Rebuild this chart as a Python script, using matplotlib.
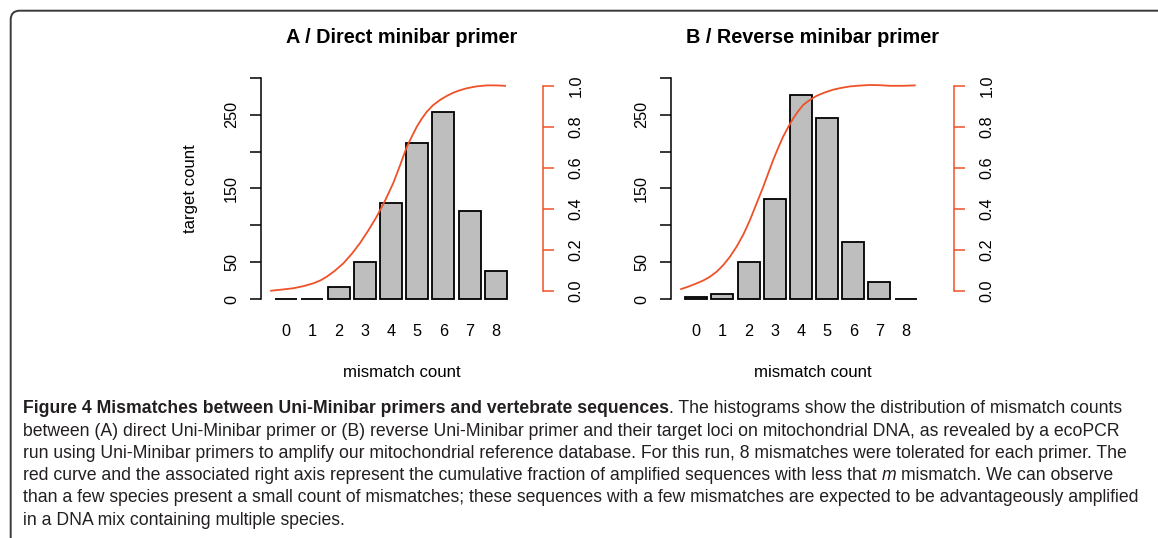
import numpy as np
import matplotlib
matplotlib.use('Agg')
import matplotlib.pyplot as plt
from matplotlib import font_manager
from matplotlib.patches import FancyBboxPatch
from matplotlib.transforms import IdentityTransform

# Data
mismatch = [0, 1, 2, 3, 4, 5, 6, 7, 8]
count_direct = [0, 0, 16, 51, 131, 211, 253, 119, 38]
count_reverse = [3, 7, 50, 136, 276, 246, 78, 23, 0]

# cumulative fraction curves
curve_direct_x = [-0.58, -0.2, 0.27, 0.65, 1.03, 1.3, 1.54, 1.85, 2.18, 2.5, 2.81, 3.13, 3.45,
                  3.77, 4.08, 4.35, 4.60, 4.8, 4.98, 5.17, 5.36, 5.6, 5.87, 6.12, 6.37, 6.62,
                  6.89, 7.25, 7.65, 8.0, 8.35]
curve_direct_y = [0.0, 0.005, 0.012, 0.022, 0.036, 0.05, 0.068, 0.097, 0.134, 0.18, 0.232, 0.294,
                  0.362, 0.44, 0.525, 0.615, 0.703, 0.755, 0.801, 0.840, 0.874, 0.906, 0.932,
                  0.951, 0.967, 0.979, 0.989, 0.998, 1.003, 1.003, 1.001]
curve_reverse_x = [-0.58, -0.3, 0.015, 0.27, 0.52, 0.78, 1.03, 1.28, 1.54, 1.8, 2.05, 2.3, 2.56,
                   2.75, 2.94, 3.13, 3.32, 3.52, 3.71, 3.9, 4.09, 4.35, 4.60, 4.9, 5.23, 5.55,
                   5.87, 6.25, 6.63, 7.0, 7.40, 7.9, 8.35]
curve_reverse_y = [0.008, 0.02, 0.036, 0.05, 0.068, 0.093, 0.125, 0.165, 0.215, 0.275, 0.345,
                   0.425, 0.508, 0.574, 0.639, 0.698, 0.753, 0.801, 0.843, 0.878, 0.908, 0.933,
                   0.952, 0.968, 0.982, 0.991, 0.998, 1.002, 1.005, 1.004, 1.001, 1.001, 1.003]

left_ticks = [0, 50, 100, 150, 200, 250, 300]
left_labels = ['0', '50', '', '150', '', '250', '']
right_ticks = [0.0, 0.2, 0.4, 0.6, 0.8, 1.0]
right_labels = ['0.0', '0.2', '0.4', '0.6', '0.8', '1.0']

titles = ['A / Direct minibar primer', 'B / Reverse minibar primer']

caption_lines = [
    [('Figure 4 Mismatches between Uni-Minibar primers and vertebrate sequences', 'bold'),
     ('. The histograms show the distribution of mismatch counts', 'normal')],
    [('between (A) direct Uni-Minibar primer or (B) reverse Uni-Minibar primer and their target '
      'loci on mitochondrial DNA, as revealed by a ecoPCR', 'normal')],
    [('run using Uni-Minibar primers to amplify our mitochondrial reference database. For this '
      'run, 8 mismatches were tolerated for each primer. The', 'normal')],
    [('red curve and the associated right axis represent the cumulative fraction of amplified '
      'sequences with less that', 'normal'), ('m', 'italic'),
     ('mismatch. We can observe', 'normal')],
    [('than a few species present a small count of mismatches; these sequences with a few '
      'mismatches are expected to be advantageously amplified', 'normal')],
    [('in a DNA mix containing multiple species.', 'normal')],
]

RED = '#ef5128'
GREY = '#bebebe'
W, H = 1158, 538
plt.rcParams['font.family'] = ['Liberation Sans', 'DejaVu Sans']

fig = plt.figure(figsize=(W / 100, H / 100), dpi=100)


def px(x, y):
    return x / W, 1 - y / H


def panel(left, right, counts, cx, cy, xlim, title, ylabel):
    top, bottom = 70, 310
    ax = fig.add_axes([left / W, 1 - bottom / H, (right - left) / W, (bottom - top) / H])
    ax.patch.set_visible(False)
    ax.bar(mismatch, counts, width=0.84, color=GREY, edgecolor='black', linewidth=1.3)
    ax.set_xlim(xlim)
    ax.set_ylim(-14.49, 310.4)
    for s in ['top', 'right', 'bottom']:
        ax.spines[s].set_visible(False)
    ax.spines['left'].set_bounds(0, 300)
    ax.spines['left'].set_linewidth(1.1)
    ax.set_yticks(left_ticks)
    ax.set_yticklabels(left_labels)
    ax.tick_params(axis='y', length=7.7, width=1.1, pad=13.2, labelsize=11.7, labelrotation=90)
    for lab in ax.get_yticklabels():
        lab.set_ha('center')
        lab.set_va('center')
    ax.set_xticks(mismatch)
    ax.set_xticklabels([str(m) for m in mismatch])
    ax.tick_params(axis='x', length=0, pad=10, labelsize=11.7)

    ax2 = ax.twinx()
    ax2.plot(cx, cy, color=RED, linewidth=1.3)
    ax2.set_ylim(-0.0943, 1.0782)
    for s in ['top', 'left', 'bottom']:
        ax2.spines[s].set_visible(False)
    ax2.spines['right'].set_bounds(0, 1)
    ax2.spines['right'].set_color(RED)
    ax2.spines['right'].set_linewidth(1.1)
    ax2.set_yticks(right_ticks)
    ax2.set_yticklabels(right_labels)
    ax2.tick_params(axis='y', length=7.9, width=1.1, color=RED, pad=15.5,
                    labelsize=11.7, labelrotation=90)
    for lab in ax2.get_yticklabels():
        lab.set_ha('center')
        lab.set_va('center')

    mid = (left + right) / 2
    fig.text(*px(mid, 42.7), title, ha='center', va='baseline', weight='bold', fontsize=14.3)
    fig.text(*px(mid, 376.7), 'mismatch count', ha='center', va='baseline', fontsize=12.1)
    if ylabel:
        fig.text(*px(190, 188.3), 'target count', ha='center', va='center',
                 rotation=90, fontsize=12.1)


panel(260.7, 543.3, count_direct, curve_direct_x, curve_direct_y, (-0.977, 9.81), titles[0], True)
panel(670.7, 954.3, count_reverse, curve_reverse_x, curve_reverse_y, (-0.978, 9.86), titles[1], False)

# rounded frame around the figure
frame = FancyBboxPatch((10.7, -200), 1400, 527.3 + 200, boxstyle='round,pad=0,rounding_size=9',
                       transform=IdentityTransform(), facecolor='none', edgecolor='#3a3a3a',
                       linewidth=1.4)
fig.patches.append(frame)

# caption
names = {f.name for f in font_manager.fontManager.ttflist}
cap_font = 'Liberation Sans Narrow' if 'Liberation Sans Narrow' in names else 'Liberation Sans'
renderer = fig.canvas.get_renderer()


def style_kw(style):
    if style == 'bold':
        return {'weight': 'bold'}
    if style == 'italic':
        return {'style': 'italic'}
    return {}


def text_width(s, size, style):
    t = fig.text(0, 0, s, family=cap_font, fontsize=size, **style_kw(style))
    w = t.get_window_extent(renderer).width
    t.remove()
    return w


def line_width(segs, size):
    sp = text_width('x x', size, 'normal') - text_width('xx', size, 'normal')
    total = 0
    for i, (s, st) in enumerate(segs):
        total += text_width(s, size, st)
        if i < len(segs) - 1 and not segs[i + 1][0].startswith('.'):
            total += sp
    return total


base = 10.0
widest = max(line_width(segs, base) for segs in caption_lines)
cap_size = base * (1120 / widest)
space_w = text_width('x x', cap_size, 'normal') - text_width('xx', cap_size, 'normal')

x0, y0, dy = 23, 413.3, 22.3
for i, segs in enumerate(caption_lines):
    x = x0
    for j, (s, st) in enumerate(segs):
        t = fig.text(*px(x, y0 + i * dy), s, family=cap_font, fontsize=cap_size,
                     ha='left', va='baseline', color='#231f20', **style_kw(st))
        x += t.get_window_extent(renderer).width
        if j < len(segs) - 1 and not segs[j + 1][0].startswith('.'):
            x += space_w

fig.savefig('out.png', dpi=100)
